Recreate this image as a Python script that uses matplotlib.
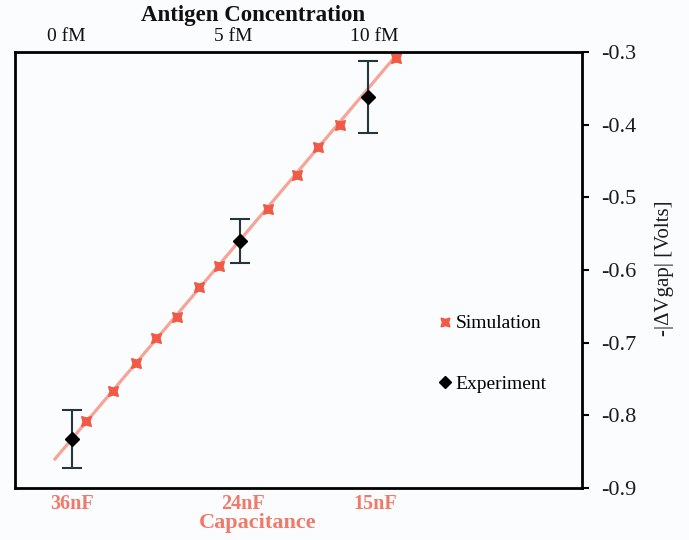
import matplotlib
matplotlib.use("Agg")
import matplotlib.pyplot as plt
from matplotlib.lines import Line2D

# values (x is an arbitrary position scale)
sim_x = [71, 98, 121, 141, 162, 184, 204, 253, 282, 303, 325, 381]
sim_y = [-0.808, -0.766, -0.728, -0.693, -0.665, -0.623, -0.594,
         -0.516, -0.469, -0.431, -0.400, -0.308]
fit_x = [40, 384]
fit_y = [-0.86, -0.30]
exp_x = [57, 225, 353]
exp_y = [-0.832, -0.560, -0.362]
exp_err = [0.04, 0.03, 0.05]

conc_pos = [51, 218, 359]
conc_labels = ['0 fM', '5 fM', '10 fM']
cap_pos = [57, 228, 360]
cap_labels = ['36nF', '24nF', '15nF']
volt_ticks = [-0.9, -0.8, -0.7, -0.6, -0.5, -0.4, -0.3]

SERIF = 'Liberation Serif'
RED = '#f05a46'
SALMON = '#ef7a6a'
LINE = '#f6a498'
BG = '#fbfcfe'

fig = plt.figure(figsize=(6.89, 5.40), dpi=100, facecolor=BG)
ax = fig.add_axes([15/689, 1 - 488/540, 567/689, 436/540])
ax.set_facecolor(BG)

ax.plot(fit_x, fit_y, color=LINE, linewidth=2.3, zorder=1)
ax.plot(sim_x, sim_y, linestyle='none', marker=(4, 1, 45), markersize=10,
        color=RED, zorder=2)
ax.errorbar(exp_x, exp_y, yerr=exp_err, fmt='D', color='black',
            markersize=7, ecolor='#26363c', elinewidth=1.5, capsize=7,
            capthick=1.5, zorder=3)

ax.set_xlim(0, 567)
ax.set_ylim(-0.9, -0.3)

for side in ['left', 'right', 'top', 'bottom']:
    ax.spines[side].set_color('black')
    ax.spines[side].set_linewidth(2)

# right-hand voltage axis
ax.yaxis.tick_right()
ax.set_yticks(volt_ticks)
ax.set_yticklabels([f'{v:.1f}' for v in volt_ticks])
ax.tick_params(axis='y', direction='out', length=5, width=1.5, pad=9,
               labelsize=16, labelcolor='#1c1c1c')
for t in ax.get_yticklabels():
    t.set_fontfamily(SERIF)

# bottom capacitance labels
ax.set_xticks(cap_pos)
ax.set_xticklabels(cap_labels)
ax.tick_params(axis='x', length=0, pad=4, labelsize=14.5, labelcolor=SALMON)
for t in ax.get_xticklabels():
    t.set_fontfamily(SERIF)
    t.set_fontweight('bold')

# top concentration labels
ax_top = ax.twiny()
ax_top.set_xlim(ax.get_xlim())
ax_top.set_xticks(conc_pos)
ax_top.set_xticklabels(conc_labels)
ax_top.tick_params(axis='x', length=0, pad=5, labelsize=14, labelcolor='#111111')
for t in ax_top.get_xticklabels():
    t.set_fontfamily(SERIF)
for side in ax_top.spines:
    ax_top.spines[side].set_visible(False)

fig.text(253/689, 1 - 16/540, 'Antigen Concentration', ha='center', va='center',
         fontsize=16.5, fontweight='bold', family=SERIF, color='#111111')
fig.text(258/689, 1 - 523/540, 'Capacitance', ha='center', va='center',
         fontsize=16, fontweight='bold', family=SERIF, color=SALMON)
fig.text(664/689, 1 - 268/540, '-|\u0394Vgap| [Volts]', ha='center', va='center',
         rotation=90, fontsize=15, family=SERIF, color='#1c1c1c')

handles = [
    Line2D([], [], linestyle='none', marker=(4, 1, 45), markersize=9, color=RED),
    Line2D([], [], linestyle='none', marker='D', markersize=6, color='black'),
]
ax.legend(handles, ['Simulation', 'Experiment'], loc='upper left',
          bbox_to_anchor=((430 - 15) / 567, (488 - 305) / 436),
          frameon=False, borderpad=0, handlelength=0.5, handletextpad=0.3,
          labelspacing=2.2, prop={'family': SERIF, 'size': 14})

fig.savefig('out.png', dpi=100, facecolor=BG)
